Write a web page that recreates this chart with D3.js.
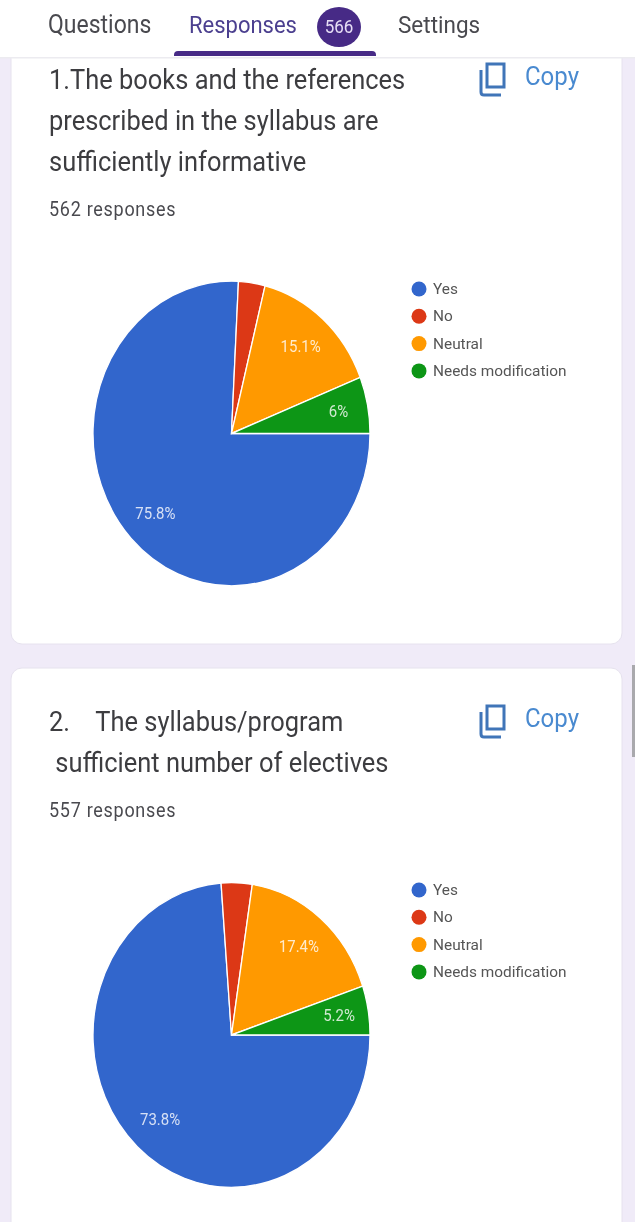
<!DOCTYPE html>
<html>
<head>
<meta charset="utf-8">
<script src="https://cdn.jsdelivr.net/npm/d3@7"></script>
<style>
    html, body { margin: 0; padding: 0; background: #f0ebf8; overflow: hidden; }
    svg { display: block; font-family: Roboto, sans-serif; }
</style>
</head>
<body>
<div id="app"></div>
<script>
// the values
var categories = ["Yes", "No", "Neutral", "Needs modification"];
var colors = ["#3366cc", "#dc3912", "#ff9900", "#109618"];
var valuesOne = [75.8, 3.1, 15.1, 6];
var valuesTwo = [73.8, 3.6, 17.4, 5.2];
var tabs = ["Questions", "Responses", "Settings"];
var badge = "566";
var titleOne = ["1.The books and the references", "prescribed in the syllabus are", "sufficiently informative"];
var titleTwo = ["2.\u00a0\u00a0\u00a0\u00a0The syllabus/program", "\u00a0sufficient number of electives"];
var countOne = "562 responses";
var countTwo = "557 responses";

var width = 635, height = 1222;
// the screenshot is stretched a bit vertically, so everything is drawn with this
var stretch = 1.1;

var svg = d3.select("#app").append("svg")
    .attr("width", width)
    .attr("height", height);

// slight blur, the source picture is soft
var defs = svg.append("defs");
defs.append("filter").attr("id", "soft")
    .attr("filterUnits", "userSpaceOnUse")
    .attr("x", 0).attr("y", 0)
    .attr("width", width).attr("height", height)
    .append("feGaussianBlur").attr("stdDeviation", 0.7);

var root = svg.append("g").attr("filter", "url(#soft)");

function place(x, y) {
    return "translate(" + x + "," + y + ") scale(1," + stretch + ")";
}

function addText(parent, str, x, y, size, fill, anchor) {
    return parent.append("text")
        .attr("transform", place(x, y))
        .attr("font-size", size)
        .attr("fill", fill)
        .attr("text-anchor", anchor || "start")
        .text(str);
}

// page and cards
root.append("rect").attr("width", width).attr("height", height).attr("fill", "#f0ebf8");
root.append("rect").attr("x", 11).attr("y", 40).attr("width", 611).attr("height", 604).attr("rx", 11)
    .attr("fill", "#fff").attr("stroke", "#e6e2ee").attr("stroke-width", 1);
root.append("rect").attr("x", 11).attr("y", 668).attr("width", 611).attr("height", 600).attr("rx", 11)
    .attr("fill", "#fff").attr("stroke", "#e6e2ee").attr("stroke-width", 1);
root.append("rect").attr("x", 632).attr("y", 665).attr("width", 3).attr("height", 92).attr("fill", "#a9a9ad");

// header with tabs
root.append("rect").attr("width", width).attr("height", 58).attr("fill", "#fff");
root.append("rect").attr("x", 0).attr("y", 57).attr("width", width).attr("height", 1.5).attr("fill", "#ecebf0");
addText(root, tabs[0], 48, 33, 23, "#4a4a4f");
addText(root, tabs[1], 189, 33, 22, "#4b3f8f");
addText(root, tabs[2], 398, 33, 22.5, "#4a4a4f");
root.append("ellipse").attr("cx", 339).attr("cy", 27).attr("rx", 22).attr("ry", 20).attr("fill", "#472c86");
addText(root, badge, 339, 33, 17, "#e6ddf5", "middle");
root.append("path").attr("d", "M174,56 v-1 q0,-4 4,-4 h194 q4,0 4,4 v1 z").attr("fill", "#472c86");

var color = d3.scaleOrdinal().domain(categories).range(colors);
var pie = d3.pie().sort(null).startAngle(Math.PI / 2).endAngle(Math.PI * 2.5);
var radius = 138.5;
var arc = d3.arc().innerRadius(0).outerRadius(radius);
var labelArc = d3.arc().innerRadius(105).outerRadius(105);
// thin slices get their label further out
var labelArcThin = d3.arc().innerRadius(109).outerRadius(109);

function labelPos(d) {
    return (d.data < 10 ? labelArcThin : labelArc).centroid(d);
}

function copyButton(y) {
    root.append("path")
        .attr("d", "M487," + (y + 2) + "h17v" + 23 + "h-17z")
        .attr("fill", "none").attr("stroke", "#3f74b8").attr("stroke-width", 3);
    root.append("path")
        .attr("d", "M481," + (y + 8) + "v" + 22 + "q0,3 3,3h17")
        .attr("fill", "none").attr("stroke", "#3f74b8").attr("stroke-width", 3);
    addText(root, "Copy", 525, y + 23, 24, "#4a8ad0");
}

function drawQuestion(options, title, count, values) {
    title.forEach(function (line, i) {
        addText(root, line, 49, options.titleY + i * options.titleStep, 25.45, "#3c3c40");
    });
    addText(root, count, 49, options.countY, 18, "#4a4a4f").attr("letter-spacing", 0.72);
    copyButton(options.copyY);

    // pie
    var g = root.append("g").attr("transform", place(231.5, options.cy));
    var slices = pie(values);
    g.selectAll("path")
        .data(slices)
        .enter()
        .append("path")
        .attr("d", arc)
        .attr("fill", function (d, i) { return color(categories[i]); })
        .attr("stroke", "#fff")
        .attr("stroke-width", 1.3);

    g.selectAll("text")
        .data(slices)
        .enter()
        .filter(function (d) { return d.data > 5; })
        .append("text")
        .attr("x", function (d) { return labelPos(d)[0]; })
        .attr("y", function (d) { return labelPos(d)[1]; })
        .attr("dy", "0.35em")
        .attr("text-anchor", "middle")
        .attr("font-size", 15)
        .attr("fill", "#fff")
        .attr("fill-opacity", 0.8)
        .text(function (d) { return d.data + "%"; });

    // legend
    var legend = root.selectAll(null)
        .data(categories)
        .enter()
        .append("g")
        .attr("transform", function (d, i) { return "translate(419," + (options.legendY + i * 27.3) + ")"; });
    legend.append("circle")
        .attr("r", 7.5)
        .attr("fill", function (d) { return color(d); });
    legend.append("text")
        .attr("x", 14)
        .attr("y", 5)
        .attr("font-size", 15.4)
        .attr("fill", "#555")
        .text(function (d) { return d; });
}

drawQuestion({ titleY: 89, titleStep: 41, countY: 216, copyY: 62, cy: 433.5, legendY: 289 }, titleOne, countOne, valuesOne);
drawQuestion({ titleY: 731, titleStep: 41, countY: 817, copyY: 704, cy: 1035, legendY: 890 }, titleTwo, countTwo, valuesTwo);
</script>
</body>
</html>
